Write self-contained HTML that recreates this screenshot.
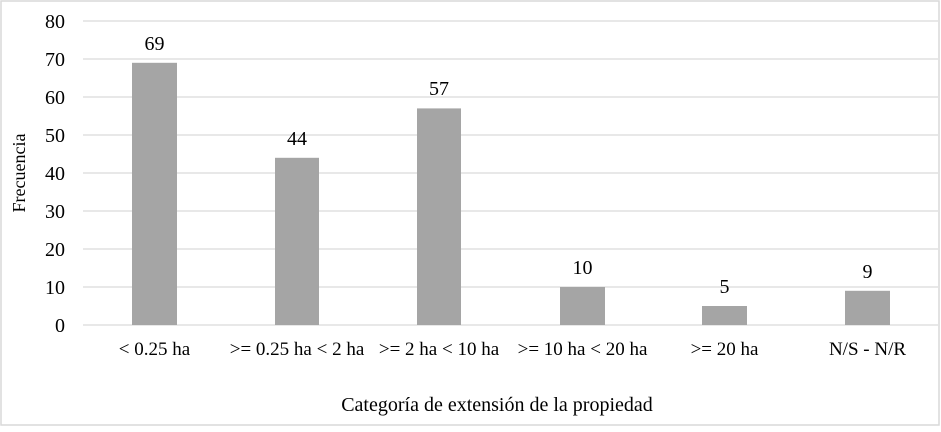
<!DOCTYPE html>
<html><head><meta charset="utf-8"><style>
body{margin:0;background:#fff}
svg text{font-family:"Liberation Serif",serif;fill:#000}
</style></head><body>
<svg width="941" height="427" viewBox="0 0 941 427">
<rect x="1" y="1" width="938" height="424" fill="#fff" stroke="#d9d9d9" stroke-width="1.5"/>
<g stroke="#d9d9d9" stroke-width="1.3">
<line x1="83" x2="938" y1="21" y2="21"/><line x1="83" x2="938" y1="59" y2="59"/>
<line x1="83" x2="938" y1="97" y2="97"/><line x1="83" x2="938" y1="135" y2="135"/>
<line x1="83" x2="938" y1="173" y2="173"/><line x1="83" x2="938" y1="211" y2="211"/>
<line x1="83" x2="938" y1="249" y2="249"/><line x1="83" x2="938" y1="287" y2="287"/>
<line x1="83" x2="938" y1="325" y2="325"/>
</g>
<g font-size="20" text-anchor="end">
<text x="65" y="28">80</text><text x="65" y="66">70</text><text x="65" y="104">60</text>
<text x="65" y="142">50</text><text x="65" y="180">40</text><text x="65" y="218">30</text>
<text x="65" y="256">20</text><text x="65" y="294">10</text><text x="65" y="332">0</text>
</g>
<g fill="#a5a5a5">
<rect x="132" y="62.8" width="45" height="262.2"/>
<rect x="275" y="157.8" width="44" height="167.2"/>
<rect x="417" y="108.4" width="44" height="216.6"/>
<rect x="560" y="287" width="45" height="38"/>
<rect x="702" y="306" width="45" height="19"/>
<rect x="845" y="290.8" width="45" height="34.2"/>
</g>
<g font-size="20" text-anchor="middle">
<text x="154.5" y="50">69</text><text x="297" y="145">44</text><text x="439" y="95">57</text>
<text x="582.5" y="274">10</text><text x="724.5" y="293">5</text><text x="867.5" y="278">9</text>
</g>
<g font-size="19" text-anchor="middle">
<text x="154.5" y="355">&lt; 0.25 ha</text>
<text x="297" y="355">&gt;= 0.25 ha &lt; 2 ha</text>
<text x="439" y="355">&gt;= 2 ha &lt; 10 ha</text>
<text x="582.5" y="355">&gt;= 10 ha &lt; 20 ha</text>
<text x="724.5" y="355">&gt;= 20 ha</text>
<text x="867.5" y="355">N/S - N/R</text>
</g>
<text x="497" y="411" font-size="20" text-anchor="middle">Categoría de extensión de la propiedad</text>
<text transform="translate(25,173) rotate(-90)" font-size="18" text-anchor="middle">Frecuencia</text>
</svg>
</body></html>
